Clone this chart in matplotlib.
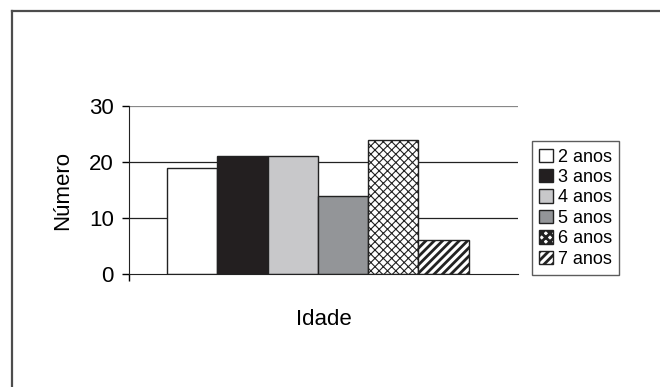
import matplotlib
matplotlib.use("Agg")
import matplotlib.pyplot as plt
from matplotlib.lines import Line2D

plt.rcParams['font.family'] = ['Liberation Sans', 'DejaVu Sans']

# idades e contagens
labels = ["2 anos", "3 anos", "4 anos", "5 anos", "6 anos", "7 anos"]
values = [19, 21, 21, 14, 24, 6]
colors = ["#ffffff", "#231f20", "#c8c8ca", "#939598", "#ffffff", "#ffffff"]
hatches = [None, None, None, None, "xxxx", "////"]
yticks = [0, 10, 20, 30]

fig = plt.figure(figsize=(6.6, 3.87), dpi=100)
ax = fig.add_axes([0.1955, 0.292, 0.589, 0.434])

# moldura: só topo e esquerda
fig.add_artist(Line2D([12 / 660, 12 / 660], [0, 1 - 11 / 387], transform=fig.transFigure,
                      color="#4d4d4d", lw=1.6))
fig.add_artist(Line2D([12 / 660, 1], [1 - 11 / 387, 1 - 11 / 387], transform=fig.transFigure,
                      color="#4d4d4d", lw=1.6))

for t in yticks[1:]:
    ax.axhline(t, color="#222222" if t < 30 else "#888888", lw=0.9, zorder=1)

for i in range(len(values)):
    lw_h = 2.0 if hatches[i] == "////" else 0.8
    plt.rcParams['hatch.linewidth'] = lw_h
    b = ax.bar(i, values[i], width=1.0, color=colors[i], edgecolor="#222222",
               hatch=hatches[i], linewidth=1.0, label=labels[i], zorder=2)
    for p in b:
        try:
            p.set_hatch_linewidth(lw_h)
        except AttributeError:
            pass

ax.set_xlim(-1.255, 6.474)
ax.set_ylim(0, 30)
ax.set_yticks(yticks)
ax.set_xticks([-1.255])
ax.set_xticklabels([""])
ax.tick_params(axis="y", length=5, width=1, labelsize=16, pad=6)
ax.tick_params(axis="x", length=5, width=1)
ax.spines['top'].set_visible(False)
ax.spines['right'].set_visible(False)
ax.spines['left'].set_color("#222222")
ax.spines['bottom'].set_color("#222222")
ax.set_ylabel("Número", fontsize=16, labelpad=11)
ax.set_xlabel("Idade", fontsize=16, labelpad=17)

leg = ax.legend(loc="upper left", bbox_to_anchor=(1.036, 0.79), fontsize=13,
                handlelength=0.75, handleheight=0.75, handletextpad=0.3,
                labelspacing=0.19, borderpad=0.4, borderaxespad=0,
                fancybox=False, frameon=True, edgecolor="#333333")
leg.get_frame().set_linewidth(1.0)

fig.savefig("out.png", dpi=100)
